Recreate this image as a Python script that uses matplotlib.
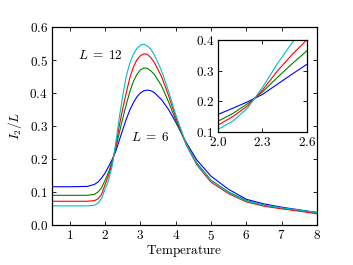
import matplotlib
matplotlib.use("Agg")
import matplotlib.pyplot as plt
from matplotlib.ticker import FormatStrFormatter, FixedLocator

plt.rcParams["mathtext.fontset"] = "cm"
plt.rcParams["font.size"] = 9.5

# temperatures where the curves were read
temperature = [0.5, 1.0, 1.5, 1.7, 1.8, 1.9, 2.0, 2.1, 2.2, 2.3, 2.4, 2.5, 2.6, 2.7,
               2.8, 2.9, 3.0, 3.1, 3.2, 3.3, 3.4, 3.6, 3.8, 4.0, 4.3, 4.6, 5.0, 5.5,
               6.0, 6.5, 7.0, 7.5, 8.0]

# I_2 / L for each system size
i2_L6 = [0.116, 0.116, 0.117, 0.123, 0.130, 0.142, 0.157, 0.177, 0.198, 0.222, 0.255,
         0.288, 0.320, 0.348, 0.370, 0.388, 0.400, 0.407, 0.409, 0.407, 0.401, 0.380,
         0.350, 0.312, 0.250, 0.197, 0.148, 0.108, 0.078, 0.064, 0.054, 0.046, 0.038]
i2_L8 = [0.090, 0.090, 0.090, 0.093, 0.100, 0.112, 0.135, 0.160, 0.192, 0.230, 0.277,
         0.322, 0.364, 0.403, 0.434, 0.456, 0.470, 0.476, 0.475, 0.467, 0.456, 0.422,
         0.373, 0.318, 0.245, 0.188, 0.136, 0.100, 0.074, 0.060, 0.051, 0.044, 0.037]
i2_L10 = [0.072, 0.072, 0.072, 0.074, 0.079, 0.092, 0.122, 0.150, 0.185, 0.236, 0.298,
          0.352, 0.400, 0.445, 0.478, 0.500, 0.513, 0.519, 0.517, 0.507, 0.492, 0.450,
          0.392, 0.327, 0.243, 0.182, 0.130, 0.095, 0.070, 0.057, 0.049, 0.042, 0.034]
i2_L12 = [0.058, 0.058, 0.058, 0.060, 0.066, 0.080, 0.108, 0.135, 0.178, 0.245, 0.322,
          0.390, 0.450, 0.490, 0.517, 0.535, 0.545, 0.548, 0.543, 0.532, 0.515, 0.468,
          0.405, 0.335, 0.245, 0.185, 0.135, 0.098, 0.072, 0.060, 0.052, 0.045, 0.038]

series = [(i2_L6, "b"), (i2_L8, "g"), (i2_L10, "r"), (i2_L12, "c")]


def style_axes(ax):
    ax.tick_params(direction="in", top=True, right=True, length=3, width=0.6, pad=3)
    for sp in ax.spines.values():
        sp.set_linewidth(0.9)


fig = plt.figure(figsize=(3.53, 2.65), dpi=100)
ax = fig.add_axes([0.1473, 0.1509, 0.7507, 0.747])
for y, c in series:
    ax.plot(temperature, y, color=c, lw=0.8)
ax.set_xlim(0.5, 8)
ax.set_ylim(0, 0.6)
ax.xaxis.set_major_locator(FixedLocator([1, 2, 3, 4, 5, 6, 7, 8]))
ax.yaxis.set_major_locator(FixedLocator([0, 0.1, 0.2, 0.3, 0.4, 0.5, 0.6]))
ax.xaxis.set_major_formatter(FormatStrFormatter(r"$%d$"))
ax.yaxis.set_major_formatter(FormatStrFormatter(r"$%.1f$"))
ax.set_xlabel(r"$\mathrm{Temperature}$", labelpad=0)
ax.set_ylabel(r"$I_2/L$", labelpad=4)
style_axes(ax)
ax.text(1.24, 0.515, r"$L\;=\;12$", va="center", ha="left")
ax.text(2.73, 0.264, r"$L\;=\;6$", va="center", ha="left")

# inset around the crossing point
axin = fig.add_axes([0.6184, 0.503, 0.2504, 0.346])
for y, c in series:
    axin.plot(temperature, y, color=c, lw=0.8)
axin.set_xlim(2.0, 2.6)
axin.set_ylim(0.1, 0.4)
axin.xaxis.set_major_locator(FixedLocator([2.0, 2.3, 2.6]))
axin.yaxis.set_major_locator(FixedLocator([0.1, 0.2, 0.3, 0.4]))
axin.xaxis.set_major_formatter(FormatStrFormatter(r"$%.1f$"))
axin.yaxis.set_major_formatter(FormatStrFormatter(r"$%.1f$"))
style_axes(axin)

fig.savefig("out.png", dpi=100)
